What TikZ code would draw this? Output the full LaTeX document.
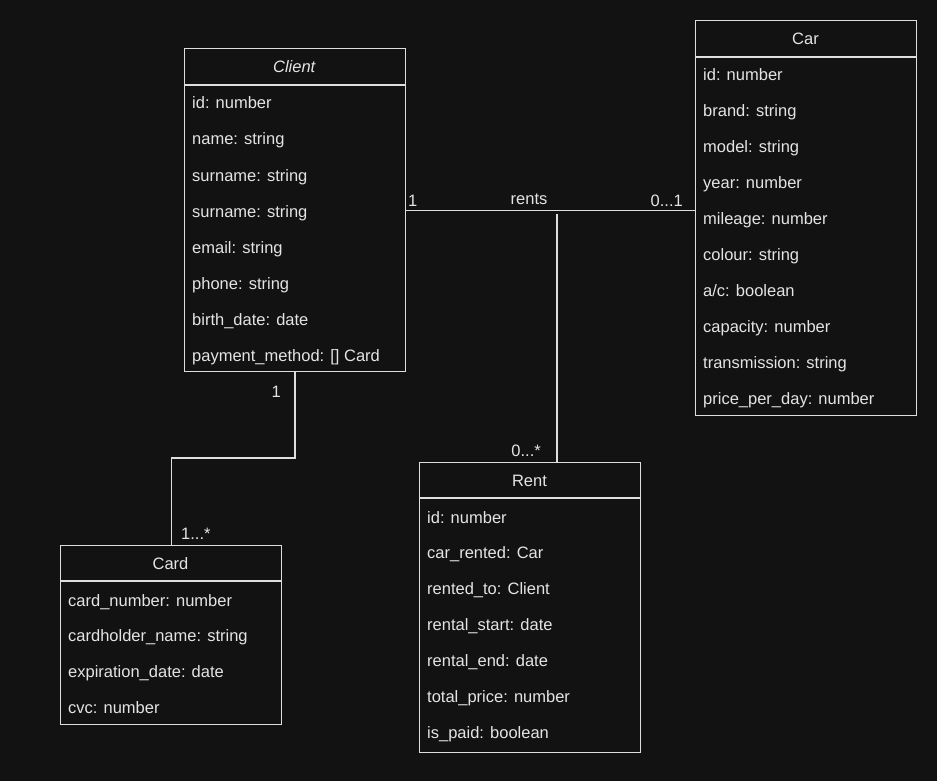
\documentclass[tikz,border=0pt]{standalone}
\usepackage{fontspec}
\setmainfont{Liberation Sans}
\definecolor{canvas}{HTML}{121212}
\definecolor{ink}{HTML}{DEDEDE}
\definecolor{txt}{HTML}{E4E4E4}
\begin{document}
\begin{tikzpicture}[x=1pt,y=-1pt,
  every node/.style={font=\fontsize{16.5}{19}\selectfont, text=txt, inner sep=0pt},
  classbox/.style={draw=ink, line width=1.3pt, rectangle, anchor=north west, minimum width=221pt},
  divider/.style={draw=ink, line width=1.3pt},
  title/.style={anchor=base},
  attr/.style={anchor=base west},
  assoc/.style={draw=ink, line width=1.3pt},
  mult/.style={}
]
% canvas
\fill[canvas] (0,0) rectangle (937,781);
\useasboundingbox (0,0) rectangle (937,781);

% ---------- Client ----------
\node[classbox, minimum height=323pt] (client) at (184,48) {};
\draw[divider] (184,85) -- (405,85);
\node[title] (client-title) at (294.5,72.5) {\textit{Client}};
\foreach \t [count=\i from 0] in {id: number, name: string, surname: string, surname: string,
    email: string, phone: string, birth\_date: date, payment\_method: [] Card}
  \node[attr] (client-\i) at (192,{109+36*\i}) {\t};

% ---------- Car ----------
\node[classbox, minimum height=395pt] (car) at (695,20) {};
\draw[divider] (695,57) -- (916,57);
\node[title] (car-title) at (805.5,45) {Car};
\foreach \t [count=\i from 0] in {id: number, brand: string, model: string, year: number,
    mileage: number, colour: string, a/c: boolean, capacity: number,
    transmission: string, price\_per\_day: number}
  \node[attr] (car-\i) at (703,{81+35.9*\i}) {\t};

% ---------- Rent ----------
\node[classbox, minimum height=290pt] (rent) at (419,462) {};
\draw[divider] (419,498) -- (640,498);
\node[title] (rent-title) at (529.5,486.5) {Rent};
\foreach \t [count=\i from 0] in {id: number, car\_rented: Car, rented\_to: Client,
    rental\_start: date, rental\_end: date, total\_price: number, is\_paid: boolean}
  \node[attr] (rent-\i) at (427,{523+35.9*\i}) {\t};

% ---------- Card ----------
\node[classbox, minimum height=179pt] (card) at (60,545) {};
\draw[divider] (60,581) -- (281,581);
\node[title] (card-title) at (170.5,569.5) {Card};
\foreach \t [count=\i from 0] in {card\_number: number, cardholder\_name: string,
    expiration\_date: date, cvc: number}
  \node[attr] (card-\i) at (68,{606+35.7*\i}) {\t};

% ---------- associations ----------
% Client -- Car (rents)
\draw[assoc] (client.east) -- (client.east -| car.west);
\node[mult, anchor=base west] (m-client-car) at (408,206) {1};
\node[mult, anchor=base] (rents-label) at (529,204) {rents};
\node[mult, anchor=base east] (m-car) at (683,206) {0...1};

% association class link down to Rent
\coordinate (rents-join) at (557,214);
\draw[assoc] (rents-join) -- (rents-join |- rent.north);
\node[mult, anchor=base east] (m-rent) at (541,456) {0...*};

% Client -- Card
\coordinate (bend) at (295,458);
\draw[assoc] (client.south -| bend) -- (bend) -- (bend -| card.north) -- (card.north);
\node[mult, anchor=base east] (m-client-card) at (281,397) {1};
\node[mult, anchor=base west] (m-card) at (181,539) {1...*};
\end{tikzpicture}
\end{document}
